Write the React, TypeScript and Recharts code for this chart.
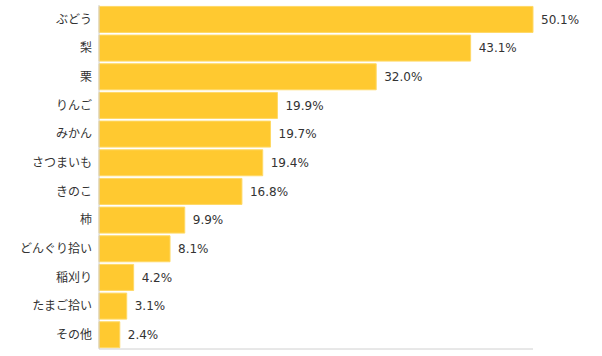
import React from 'react';
import { BarChart, Bar, XAxis, YAxis, LabelList } from 'recharts';

const categories = ['ぶどう', '梨', '栗', 'りんご', 'みかん', 'さつまいも', 'きのこ', '柿', 'どんぐり拾い', '稲刈り', 'たまご拾い', 'その他'];
const barValues = [50.1, 42.9, 32.0, 20.6, 19.8, 18.9, 16.5, 9.9, 8.2, 4.0, 3.2, 2.4];
const valueLabels = ['50.1%', '43.1%', '32.0%', '19.9%', '19.7%', '19.4%', '16.8%', '9.9%', '8.1%', '4.2%', '3.1%', '2.4%'];

const data = categories.map((name, i) => ({ name, value: barValues[i], label: valueLabels[i] }));

const FONT = '"DejaVu Sans", "Noto Sans CJK JP", sans-serif';

export default function App() {
  return (
    <div style={{ position: 'absolute', left: 0, top: 0, background: '#fff' }}>
      <BarChart
        width={602}
        height={356}
        data={data}
        layout="vertical"
        margin={{ top: 5, right: 69, bottom: 6, left: 0 }}
        barCategoryGap="5%"
      >
        <XAxis
          type="number"
          domain={[0, 'dataMax']}
          tick={false}
          tickLine={false}
          axisLine={{ stroke: '#d0d0d0' }}
          height={1}
        />
        <YAxis
          type="category"
          dataKey="name"
          width={99}
          tickLine={false}
          tickSize={6}
          tickMargin={1}
          axisLine={{ stroke: '#d0d0d0' }}
          tick={{ fill: '#333', fontSize: 12, fontFamily: '"Noto Sans CJK JP", sans-serif' }}
          interval={0}
        />
        <Bar dataKey="value" fill="#FFC930" stroke="#FFD966" strokeWidth={1} isAnimationActive={false}>
          <LabelList dataKey="label" position="right" offset={8} fill="#333" fontSize={12} fontFamily={FONT} />
        </Bar>
      </BarChart>
    </div>
  );
}
